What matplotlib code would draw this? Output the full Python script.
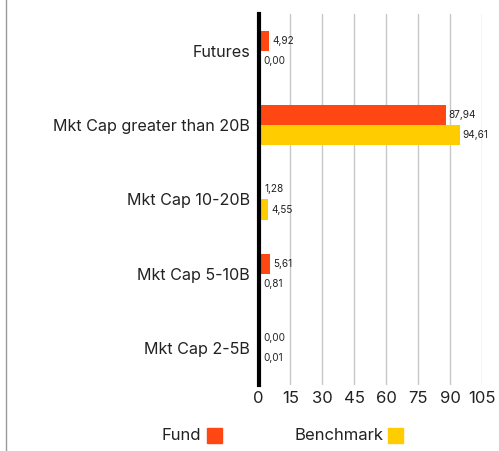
import matplotlib
matplotlib.use("Agg")
import matplotlib.pyplot as plt
from matplotlib.lines import Line2D
from matplotlib.patches import Rectangle
import numpy as np

plt.rcParams["font.family"] = ["Inter", "DejaVu Sans"]

categories = ["Futures", "Mkt Cap greater than 20B", "Mkt Cap 10-20B", "Mkt Cap 5-10B", "Mkt Cap 2-5B"]
fund = [4.92, 87.94, 1.28, 5.61, 0.00]
benchmark = [0.00, 94.61, 4.55, 0.81, 0.01]
xticks = [0, 15, 30, 45, 60, 75, 90, 105]

FUND_COLOR = "#FF4713"
BENCH_COLOR = "#FFCC00"

W, H = 499, 451
fig = plt.figure(figsize=(W / 100, H / 100), dpi=100)
ax = fig.add_axes([258.5 / W, 1 - 385 / H, (482 - 258.5) / W, (385 - 14) / H])

y = np.arange(len(categories))
bh = 0.27
ax.barh(y - bh / 2, fund, height=bh, color=FUND_COLOR, zorder=3)
ax.barh(y + bh / 2, benchmark, height=bh, color=BENCH_COLOR, zorder=3)

for i in range(len(categories)):
    ax.text(max(fund[i], 0.8) + 1.4, y[i] - bh / 2, f"{fund[i]:.2f}".replace(".", ","),
            va="center", ha="left", fontsize=7.2, color="#222222")
    ax.text(max(benchmark[i], 0.8) + 1.4, y[i] + bh / 2, f"{benchmark[i]:.2f}".replace(".", ","),
            va="center", ha="left", fontsize=7.2, color="#222222")

ax.set_ylim(len(categories) - 0.5, -0.5)
ax.set_xlim(0, 105)
ax.set_yticks(y)
ax.set_yticklabels(categories, fontsize=11.6, color="#222222")
ax.set_xticks(xticks)
ax.set_xticklabels([str(t) for t in xticks], fontsize=12, color="#222222")
ax.tick_params(axis="both", length=0, pad=4)
ax.tick_params(axis="y", pad=6)
ax.grid(axis="x", color="#c8c8c8", linewidth=1, zorder=0)
for s in ["top", "right", "bottom"]:
    ax.spines[s].set_visible(False)
ax.spines["left"].set_linewidth(3)
ax.spines["left"].set_color("black")
ax.spines["left"].set_zorder(4)

# legend
fig.text(201 / W, 1 - 436 / H, "Fund", ha="right", va="center", fontsize=12, color="#222222")
fig.patches.append(Rectangle((207 / W, 1 - 443 / H), 15 / W, 15 / H, color=FUND_COLOR,
                             transform=fig.transFigure, figure=fig))
fig.text(384 / W, 1 - 436 / H, "Benchmark", ha="right", va="center", fontsize=12, color="#222222")
fig.patches.append(Rectangle((388 / W, 1 - 443 / H), 15 / W, 15 / H, color=BENCH_COLOR,
                             transform=fig.transFigure, figure=fig))

# left frame line
fig.lines.append(Line2D([5.5 / W, 5.5 / W], [0, 1], color="#999999", linewidth=1,
                        transform=fig.transFigure))

fig.savefig("out.png", dpi=100)
